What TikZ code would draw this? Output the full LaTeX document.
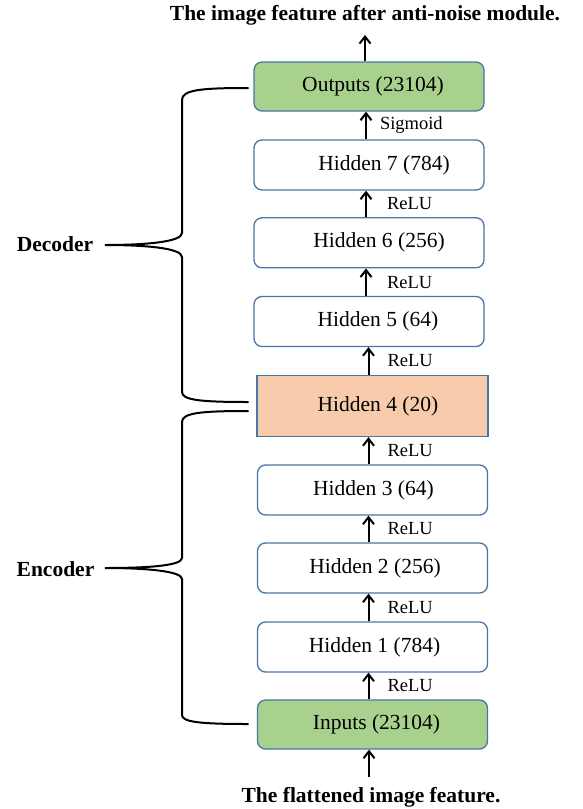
\documentclass[tikz,border=0pt]{standalone}
\usepackage{fontspec}
\setmainfont{Liberation Serif}
\usetikzlibrary{arrows.meta}
\definecolor{boxline}{HTML}{4A76A6}
\definecolor{greenfill}{HTML}{A9D18E}
\definecolor{orangefill}{HTML}{F8CBAD}
\tikzset{
  layer/.style={draw=boxline, line width=1.3pt, rounded corners=8pt, minimum width=230pt, minimum height=50pt, inner sep=0pt, font=\fontsize{21.5}{25}\selectfont, fill=white},
  iobox/.style={layer, fill=greenfill, minimum height=49pt},
  codebox/.style={layer, rounded corners=0pt, fill=orangefill, minimum width=231pt, minimum height=61pt},
  arr/.style={line width=2pt, -{Straight Barb[length=7pt, width=11pt, line width=2pt]}},
  actlab/.style={font=\fontsize{18.5}{22}\selectfont, anchor=west, inner sep=0pt},
  titletxt/.style={font=\fontsize{21.5}{25}\selectfont\bfseries, inner sep=0pt},
  brace/.style={line width=2pt, line cap=round}
}
\newcommand{\sh}[1]{\hspace*{#1pt}}
\begin{document}
\begin{tikzpicture}[x=1pt, y=-1pt]
\useasboundingbox (0,0) rectangle (583,809);
% title texts
\node[titletxt] (title) at (365,15) {The image feature after anti-noise module.};
\node[titletxt] (bottomtxt) at (371,797) {The flattened image feature.};
% layers
\node[iobox]   (out) at (369,86.5) {\sh{8}Outputs (23104)};
\node[layer]   (h7)  at (369,165)  {\sh{30}Hidden 7 (784)};
\node[layer]   (h6)  at (369,242.8){\sh{20}Hidden 6 (256)};
\node[layer]   (h5)  at (369,321.5){\sh{18}Hidden 5 (64)};
\node[codebox] (h4)  at (372.5,406){\sh{11}Hidden 4 (20)};
\node[layer]   (h3)  at (372.5,490){\sh{2}Hidden 3 (64)};
\node[layer]   (h2)  at (372.5,568){\sh{5}Hidden 2 (256)};
\node[layer]   (h1)  at (372.5,647){\sh{4}Hidden 1 (784)};
\node[iobox]   (in)  at (372.5,724.5){\sh{8}Inputs (23104)};
% free ends
\coordinate (topend) at (365,35);
\coordinate (botstart) at (369,777);
% arrows
\draw[arr] ([xshift=-4pt]out.north) -- (topend);
\draw[arr] ([xshift=-3pt]h7.north) -- node[actlab, pos=0.5, xshift=13pt] {Sigmoid} ([xshift=-3pt]out.south);
\draw[arr] ([xshift=-3pt]h6.north) -- node[actlab, pos=0.5, xshift=20pt] {ReLU} ([xshift=-3pt]h7.south);
\draw[arr] ([xshift=-3pt]h5.north) -- node[actlab, pos=0.5, xshift=20pt] {ReLU} ([xshift=-3pt]h6.south);
\draw[arr] ([xshift=-4pt]h4.north) -- node[actlab, pos=0.5, xshift=18pt] {ReLU} ([xshift=-0.5pt]h5.south);
\draw[arr] ([xshift=-4pt]h3.north) -- node[actlab, pos=0.5, xshift=18pt] {ReLU} ([xshift=-4pt]h4.south);
\draw[arr] ([xshift=-4pt]h2.north) -- node[actlab, pos=0.5, xshift=18pt] {ReLU} ([xshift=-4pt]h3.south);
\draw[arr] ([xshift=-4pt]h1.north) -- node[actlab, pos=0.5, xshift=18pt] {ReLU} ([xshift=-4pt]h2.south);
\draw[arr] ([xshift=-4pt]in.north) -- node[actlab, pos=0.5, xshift=18pt] {ReLU} ([xshift=-4pt]h1.south);
\draw[arr] (botstart) -- ([xshift=-3.5pt]in.south);
% braces
\draw[brace] (248,88) .. controls (200,88) and (182,90) .. (182,100) -- (182,233)
  .. controls (182,242) and (145,245) .. (105,245)
  .. controls (145,245) and (182,248) .. (182,257) -- (182,392)
  .. controls (182,400) and (200,402) .. (248,402);
\draw[brace] (248,411) .. controls (200,411) and (182,413) .. (182,422) -- (182,558)
  .. controls (182,566) and (145,568) .. (105,568)
  .. controls (145,568) and (182,571) .. (182,579) -- (182,715)
  .. controls (182,722) and (200,724) .. (248,724);
% brace labels
\node[titletxt] (dec) at (55,244) {Decoder};
\node[titletxt] (enc) at (55.5,569) {Encoder};
\end{tikzpicture}
\end{document}
